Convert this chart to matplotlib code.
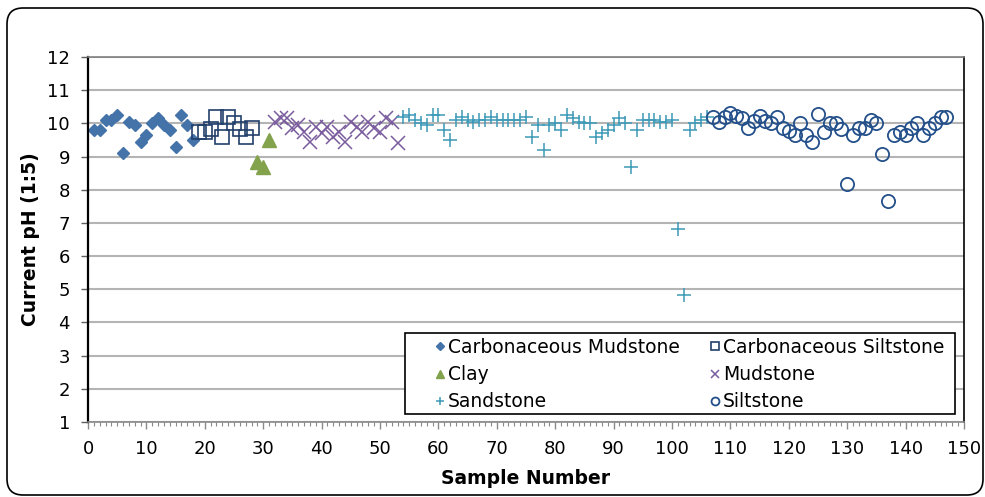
import matplotlib
matplotlib.use("Agg")
import matplotlib.pyplot as plt
from matplotlib.patches import FancyBboxPatch, Rectangle
from matplotlib.transforms import IdentityTransform
from matplotlib.ticker import MultipleLocator

plt.rcParams['font.family'] = ['DejaVu Sans']

# ---- data ----
cm_x = list(range(1, 19))
cm_y = [9.8, 9.8, 10.1, 10.1, 10.25, 9.1, 10.05, 9.95, 9.45, 9.65, 10.0, 10.15,
        9.95, 9.8, 9.3, 10.25, 9.95, 9.5]

cs_x = list(range(19, 29))
cs_y = [9.75, 9.75, 9.83, 10.2, 9.6, 10.2, 10.0, 9.82, 9.58, 9.85]

clay_x = [29, 30, 31]
clay_y = [8.85, 8.7, 9.5]

mud_x = list(range(32, 54))
mud_y = [10.05, 10.15, 10.15, 9.85, 9.95, 9.75, 9.45, 9.9, 9.7, 9.9, 9.6, 9.75,
         9.45, 10.05, 9.9, 9.75, 10.05, 9.85, 9.75, 10.15, 10.05, 9.42]

sand_x = list(range(54, 107))
sand_y = [10.2, 10.25, 10.1, 10.0, 9.95, 10.25, 10.25, 9.8, 9.5, 10.1,
          10.2, 10.1, 10.05, 10.1, 10.1, 10.2, 10.1, 10.1, 10.1, 10.1,
          10.1, 10.2, 9.6, 9.95, 9.2, 9.95, 10.0, 9.8, 10.25, 10.15,
          10.05, 10.0, 10.0, 9.6, 9.7, 9.8, 9.95, 10.15, 10.0, 8.7,
          9.8, 10.1, 10.1, 10.1, 10.05, 10.05, 10.1, 6.82, 4.82, 9.8,
          10.0, 10.1, 10.2]

silt_x = list(range(107, 148))
silt_y = [10.18, 10.05, 10.18, 10.3, 10.22, 10.15, 9.85, 10.08, 10.22, 10.08,
          10.0, 10.2, 9.85, 9.77, 9.65, 10.0, 9.65, 9.45, 10.28, 9.73,
          10.0, 10.0, 9.82, 8.17, 9.65, 9.85, 9.85, 10.1, 10.0, 9.08,
          7.65, 9.65, 9.75, 9.65, 9.85, 10.0, 9.65, 9.85, 10.0, 10.2, 10.18]

y_ticks = list(range(1, 13))
x_ticks = list(range(0, 151, 10))

# ---- figure ----
fig = plt.figure(figsize=(9.85, 4.97), dpi=100)
ax = fig.add_axes([88/985, 1-422/497, (964-88)/985, (422-57)/497])

h_cm, = ax.plot(cm_x, cm_y, ls='none', marker='D', ms=6.5, color='#4473aa',
                mec='#4473aa', label='Carbonaceous Mudstone')
h_cs, = ax.plot(cs_x, cs_y, ls='none', marker='s', ms=9.5, mfc='none',
                mec='#213f6b', mew=1.2, label='Carbonaceous Siltstone')
h_clay, = ax.plot(clay_x, clay_y, ls='none', marker='^', ms=9.5, color='#82a24c',
                  label='Clay')
h_mud, = ax.plot(mud_x, mud_y, ls='none', marker='x', ms=9.5, mew=1.1,
                 color='#7a5b9d', label='Mudstone')
h_sand, = ax.plot(sand_x, sand_y, ls='none', marker='+', ms=10.5, mew=1.1,
                  color='#3d9ab8', label='Sandstone')
h_silt, = ax.plot(silt_x, silt_y, ls='none', marker='o', ms=9.5, mfc='none',
                  mec='#234f8a', mew=1.3, label='Siltstone')

ax.set_xlim(0, 150)
ax.set_ylim(1, 12)
ax.set_yticks(y_ticks)
ax.set_xticks(x_ticks)
ax.xaxis.set_minor_locator(MultipleLocator(1))
ax.grid(axis='y', color='#b4b4b4', lw=1.5)
ax.set_axisbelow(True)

ax.spines['left'].set_color('black')
ax.spines['left'].set_linewidth(1.6)
ax.spines['right'].set_color('black')
ax.spines['right'].set_linewidth(1.2)
ax.spines['top'].set_color('#808080')
ax.spines['top'].set_linewidth(1.2)
ax.spines['bottom'].set_color('#8a8a8a')
ax.spines['bottom'].set_linewidth(1.2)

ax.tick_params(axis='y', direction='out', length=5, width=1, color='#606060',
               labelsize=13, pad=8)
ax.tick_params(axis='x', which='major', direction='out', length=5, width=1,
               color='#8a8a8a', labelsize=13, pad=8)
ax.tick_params(axis='x', which='minor', direction='out', length=3, width=0.8,
               color='#8a8a8a')

ax.set_xlabel('Sample Number', fontsize=13.5, fontweight='bold')
ax.xaxis.set_label_coords((526-88)/876, (422-469)/365)
ax.set_ylabel('Current pH (1:5)', fontsize=13.5, fontweight='bold')
ax.yaxis.set_label_coords((40-88)/876, 0.5)

# legend frame
ax.add_patch(Rectangle(((405-88)/876, (422-414)/365), (955-405)/876, (414-333)/365,
                       transform=ax.transAxes, facecolor='white', edgecolor='black',
                       lw=1.2, zorder=4.9, clip_on=False))

handles = [h_cm, h_clay, h_sand, h_cs, h_mud, h_silt]
leg = ax.legend(handles=handles, labels=[h.get_label() for h in handles],
                ncol=2, loc='upper left',
                bbox_to_anchor=((436-88)/876, (422-338)/365),
                borderaxespad=0, borderpad=0, fontsize=13.5, markerscale=0.6,
                handlelength=0.4, handletextpad=0.23, labelspacing=0.43,
                frameon=False, columnspacing=1.68)
leg.set_zorder(5)

# outer rounded border
box = FancyBboxPatch((7, 2), 976, 487, boxstyle="round,pad=0,rounding_size=16",
                     transform=IdentityTransform(), fill=False,
                     edgecolor='black', linewidth=1.2)
fig.add_artist(box)

fig.savefig('out.png', dpi=100)
